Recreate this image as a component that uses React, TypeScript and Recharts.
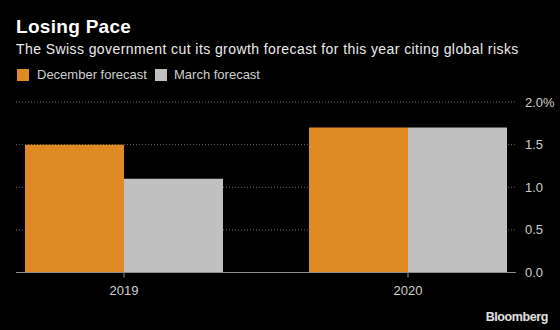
import { Bar, BarChart, CartesianGrid, XAxis, YAxis } from "recharts";

// growth forecast, %
const years = ["2019", "2020"];
const decemberForecast = [1.5, 1.7];
const marchForecast = [1.1, 1.7];
const yTicks = [0, 0.5, 1, 1.5, 2];

const data = years.map((year, i) => ({
  year,
  december: decemberForecast[i],
  march: marchForecast[i],
}));

const ORANGE = "#DF8A25";
const GRAY = "#C0C0C0";
const FONT = "'Liberation Sans', Arial, sans-serif";

export default function App() {
  return (
    <div
      style={{
        position: "absolute",
        left: 0,
        top: 0,
        width: 560,
        height: 330,
        background: "#000",
        fontFamily: FONT,
        overflow: "hidden",
      }}
    >
      <div
        style={{
          position: "absolute",
          left: 16,
          top: 17,
          fontSize: 19,
          lineHeight: "19px",
          fontWeight: "bold",
          color: "#fff",
          letterSpacing: 0.3,
          whiteSpace: "nowrap",
        }}
      >
        Losing Pace
      </div>
      <div
        style={{
          position: "absolute",
          left: 16,
          top: 41.5,
          fontSize: 14,
          lineHeight: "14px",
          color: "#ececec",
          letterSpacing: 0.42,
          whiteSpace: "nowrap",
        }}
      >
        The Swiss government cut its growth forecast for this year citing global risks
      </div>
      <div
        style={{
          position: "absolute",
          left: 17,
          top: 69,
          width: 12,
          height: 12,
          background: ORANGE,
        }}
      />
      <div
        style={{
          position: "absolute",
          left: 37,
          top: 68,
          fontSize: 13,
          lineHeight: "13px",
          color: "#cfcfcf",
          whiteSpace: "nowrap",
        }}
      >
        December forecast
      </div>
      <div
        style={{
          position: "absolute",
          left: 155,
          top: 69,
          width: 12,
          height: 12,
          background: GRAY,
        }}
      />
      <div
        style={{
          position: "absolute",
          left: 174,
          top: 68,
          fontSize: 13,
          lineHeight: "13px",
          color: "#cfcfcf",
          whiteSpace: "nowrap",
        }}
      >
        March forecast
      </div>

      <div style={{ position: "absolute", left: 0, top: 0 }}>
        <BarChart
          width={560}
          height={330}
          data={data}
          margin={{ top: 102, right: 0, bottom: 27.5, left: 16 }}
          barCategoryGap={43}
          barGap={0}
        >
          <CartesianGrid
            horizontal
            vertical={false}
            stroke="#6a6a6a"
            strokeDasharray="1 2"
          />
          <XAxis
            dataKey="year"
            height={30}
            padding={{ left: -34, right: -34 }}
            axisLine={{ stroke: "#8c8c8c" }}
            tickLine={{ stroke: "#8c8c8c" }}
            tickSize={5}
            tickMargin={8}
            tick={{ fill: "#cfcfcf", fontSize: 13, fontFamily: FONT }}
          />
          <YAxis
            orientation="right"
            width={44}
            domain={[0, 2]}
            ticks={yTicks}
            axisLine={false}
            tickLine={false}
            tickMargin={3}
            tickFormatter={(v: number) => (v === 2 ? "2.0%" : v.toFixed(1))}
            tick={{ fill: "#cfcfcf", fontSize: 13, fontFamily: FONT, textAnchor: "start" }}
          />
          <Bar dataKey="december" fill={ORANGE} isAnimationActive={false} />
          <Bar dataKey="march" fill={GRAY} isAnimationActive={false} />
        </BarChart>
      </div>

      <div
        style={{
          position: "absolute",
          right: 12,
          top: 310.5,
          fontSize: 12.5,
          lineHeight: "12.5px",
          fontWeight: "bold",
          color: "#e0e0e0",
          letterSpacing: -0.4,
          whiteSpace: "nowrap",
        }}
      >
        Bloomberg
      </div>
    </div>
  );
}
